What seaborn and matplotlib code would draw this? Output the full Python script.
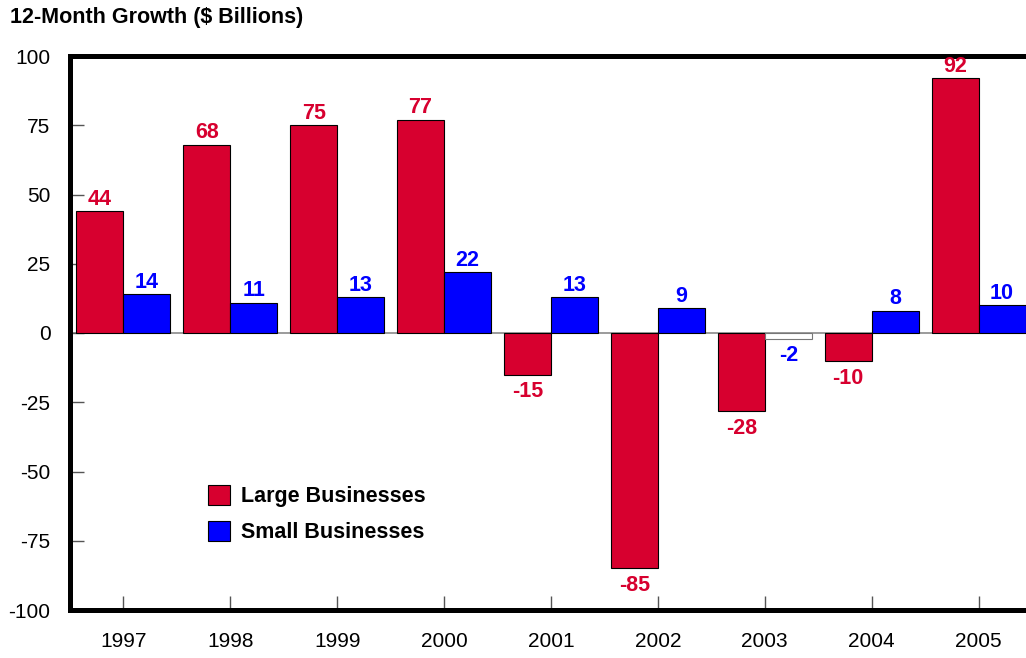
import matplotlib
matplotlib.use("Agg")
import matplotlib.pyplot as plt
from matplotlib.patches import Patch
import pandas as pd
import seaborn as sns

years = ["1997", "1998", "1999", "2000", "2001", "2002", "2003", "2004", "2005"]
large = [44, 68, 75, 77, -15, -85, -28, -10, 92]
small = [14, 11, 13, 22, 13, 9, -2, 8, 10]
series = ["Large Businesses", "Small Businesses"]
yticks = [-100, -75, -50, -25, 0, 25, 50, 75, 100]

RED = "#D7002F"
BLUE = "#0000FF"

sns.set_theme(style="white")
plt.rcParams["font.family"] = ["Liberation Sans", "DejaVu Sans"]
plt.rcParams["text.color"] = "black"
plt.rcParams["xtick.labelcolor"] = "black"
plt.rcParams["ytick.labelcolor"] = "black"

df = pd.DataFrame({
    "Year": years * 2,
    "Growth": large + small,
    "Segment": [series[0]] * len(years) + [series[1]] * len(years),
})

fig = plt.figure(figsize=(10.26, 6.58), dpi=100)
ax = fig.add_axes([70 / 1026, 48 / 658, 962 / 1026, 554 / 658])

ax.axhline(0, color="#8a8a8a", lw=1.2, zorder=0)

sns.barplot(data=df, x="Year", y="Growth", hue="Segment", order=years,
            hue_order=series, palette=[RED, BLUE], width=0.88,
            edgecolor="black", linewidth=0.8, saturation=1, legend=False,
            errorbar=None, ax=ax, zorder=2)

# small negative bars are drawn hollow
for bar, v in zip(ax.containers[1], small):
    if v < 0:
        bar.set_facecolor("white")
        bar.set_edgecolor("#777777")

# value labels: just above positive bars, a little further below negative ones
for cont, col, vals in zip(ax.containers, [RED, BLUE], [large, small]):
    for bar, v in zip(cont, vals):
        x = bar.get_x() + bar.get_width() / 2
        dy = 1 if v >= 0 else -5
        ax.annotate(f"{v}", (x, v), xytext=(0, dy), textcoords="offset points",
                    ha="center", va="bottom" if v >= 0 else "top",
                    color=col, fontsize=15.5, fontweight="bold")

ax.set_xlim(-0.5, len(years) - 0.5)
ax.set_ylim(-100, 100)
ax.set_yticks(yticks)
ax.set_yticklabels([str(t) for t in yticks])
ax.set_xlabel("")
ax.set_ylabel("")

for side in ["left", "bottom", "top"]:
    ax.spines[side].set_linewidth(3.6)
    ax.spines[side].set_color("black")
ax.spines["right"].set_visible(False)

ax.tick_params(axis="y", direction="in", length=10, width=1, color="#555555",
               labelsize=15, pad=14, left=True, labelcolor="black")
ax.tick_params(axis="x", direction="in", length=10, width=1, color="#555555",
               labelsize=15, pad=16, bottom=True, labelcolor="black")

handles = [Patch(facecolor=RED, edgecolor="black", lw=0.8),
           Patch(facecolor=BLUE, edgecolor="black", lw=0.8)]
leg = ax.legend(handles, series, loc="upper left", bbox_to_anchor=(0.132, 0.245),
                frameon=False, prop={"weight": "bold", "size": 15.5},
                handlelength=1.05, handleheight=1.05, handletextpad=0.5,
                labelspacing=0.62, borderpad=0)
for t in leg.get_texts():
    t.set_color("black")

fig.text(10 / 1026, 1 - 18 / 658, "12-Month Growth ($ Billions)",
         fontsize=15.5, fontweight="bold", va="center", ha="left", color="black")

fig.savefig("out.png", dpi=100)
